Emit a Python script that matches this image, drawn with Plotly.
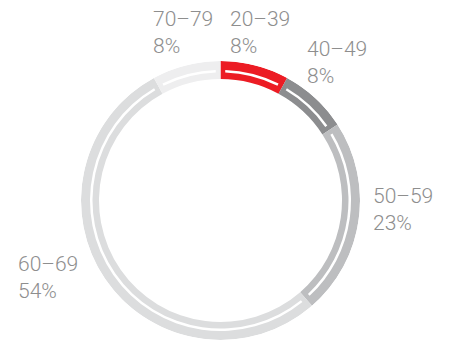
import plotly.graph_objects as go

categories = ["20–39", "40–49", "50–59", "60–69", "70–79"]
values = [8, 8, 23, 54, 8]
colors = ["#EC1C24", "#8C8D8F", "#BDBEC0", "#DCDDDE", "#EEEEEF"]

W, H = 454, 342
cx, cy, R = 220.5, 200.5, 139.5
inner_r = 121.5
line_r0, line_r1 = 128.0, 130.5
gap_deg = 2.1

total = sum(values)
widths = [v / total * 360 for v in values]
centers = []
acc = 0
for w in widths:
    centers.append(acc + w / 2)
    acc += w

fig = go.Figure()
fig.add_trace(go.Barpolar(
    theta=centers, width=widths,
    r=[(R - inner_r) / R] * len(values), base=[inner_r / R] * len(values),
    marker=dict(color=colors, line=dict(width=0)),
    hoverinfo="skip", showlegend=False,
))
fig.add_trace(go.Barpolar(
    theta=centers, width=[w - 2 * gap_deg for w in widths],
    r=[(line_r1 - line_r0) / R] * len(values), base=[line_r0 / R] * len(values),
    marker=dict(color="white", line=dict(width=0)),
    hoverinfo="skip", showlegend=False,
))

fig.update_layout(
    width=W, height=H, margin=dict(l=0, r=0, t=0, b=0),
    paper_bgcolor="white", plot_bgcolor="white",
    polar=dict(
        domain=dict(x=[(cx - R) / W, (cx + R) / W], y=[1 - (cy + R) / H, 1 - (cy - R) / H]),
        bgcolor="white",
        radialaxis=dict(range=[0, 1], visible=False, showgrid=False, showline=False, showticklabels=False, ticks=""),
        angularaxis=dict(rotation=90, direction="clockwise", visible=False, showgrid=False,
                         showline=False, showticklabels=False, ticks=""),
        bargap=0,
    ),
)

label_pos = {  # pixel positions (left, top) of each label
    "20–39": (228, 5),
    "40–49": (305, 35),
    "50–59": (371, 182),
    "60–69": (16, 250),
    "70–79": (151, 5),
}
for cat, v in zip(categories, values):
    px, py = label_pos[cat]
    fig.add_annotation(
        x=px / W, y=1 - py / H, xref="paper", yref="paper",
        xanchor="left", yanchor="top", align="left", showarrow=False,
        text=f"{cat}<br>{v}%",
        font=dict(family="Roboto, Liberation Sans, sans-serif", size=21, weight=300, color="#8E8E8E"),
    )

fig.write_html("out.html")
